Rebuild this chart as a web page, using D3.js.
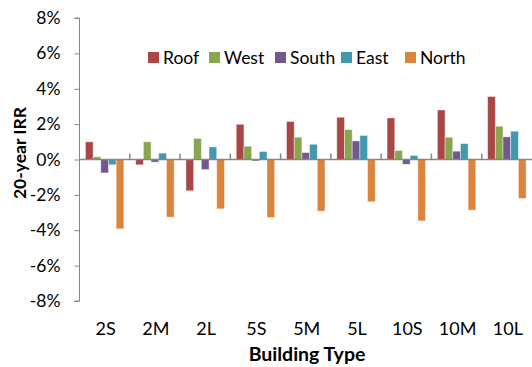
<!DOCTYPE html>
<html>
<head>
<meta charset="utf-8">
<script src="https://cdn.jsdelivr.net/npm/d3@7/dist/d3.min.js"></script>
<style>
  html, body { margin: 0; padding: 0; background: #fff; }
  svg { display: block; font-family: Lato, "Open Sans", sans-serif; }
</style>
</head>
<body>
<svg id="chart" width="532" height="367"></svg>
<script>
// Building types along the x axis
const categories = ["2S", "2M", "2L", "5S", "5M", "5L", "10S", "10M", "10L"];
// Roof / facade orientations
const seriesNames = ["Roof", "West", "South", "East", "North"];
const seriesColors = ["#AA4643", "#89A54E", "#71588F", "#4198AF", "#DB843D"];

// 20-year IRR (%) per building type, one array per orientation
const roof  = [1.00, -0.30, -1.77, 1.99, 2.15, 2.39, 2.35, 2.80, 3.56];
const west  = [0.15, 1.00, 1.19, 0.75, 1.26, 1.69, 0.51, 1.26, 1.88];
const south = [-0.76, -0.15, -0.57, -0.08, 0.39, 1.05, -0.27, 0.47, 1.28];
const east  = [-0.30, 0.36, 0.71, 0.45, 0.86, 1.36, 0.23, 0.90, 1.60];
const north = [-3.92, -3.26, -2.79, -3.28, -2.92, -2.39, -3.47, -2.86, -2.20];

const yTicks = [-8, -6, -4, -2, 0, 2, 4, 6, 8];

const seriesValues = [roof, west, south, east, north];

const svg = d3.select("#chart");
const plot = { left: 79.5, right: 532, top: 18, bottom: 301 };

const x0 = d3.scaleBand().domain(categories).range([plot.left, plot.right]).paddingInner(0).paddingOuter(0);
const x1 = d3.scaleBand().domain(seriesNames).range([0, x0.bandwidth()]).paddingInner(0).paddingOuter(0.77);
const y = d3.scaleLinear().domain([-8, 8]).range([plot.bottom, plot.top]);

// Bars
const groups = svg.append("g").selectAll("g")
  .data(categories)
  .join("g")
  .attr("transform", d => `translate(${x0(d)},0)`);

groups.selectAll("rect")
  .data((c, i) => seriesNames.map((s, k) => ({ s, k, v: seriesValues[k][i] })))
  .join("rect")
  .attr("x", d => x1(d.s))
  .attr("width", x1.bandwidth())
  .attr("y", d => y(Math.max(0, d.v)))
  .attr("height", d => Math.abs(y(d.v) - y(0)))
  .attr("fill", d => seriesColors[d.k])
  .attr("stroke", "#fff")
  .attr("stroke-opacity", 0.5)
  .attr("stroke-width", 0.8);

// Y axis
const yAxis = d3.axisLeft(y).tickValues(yTicks).tickSize(5).tickPadding(14)
  .tickFormat(d => d + "%");
const gy = svg.append("g").attr("transform", `translate(${plot.left},0)`).call(yAxis);
gy.select(".domain").attr("stroke", "#868686").attr("d", `M-5,${y(8)}H0V${y(-8)}H-5`);
gy.selectAll(".tick line").attr("stroke", "#868686");
gy.selectAll(".tick text").attr("font-size", 17.5).attr("fill", "#000")
  .attr("font-family", "Lato, 'Open Sans', sans-serif");

// X axis line at zero with category boundary ticks pointing up
const gx = svg.append("g");
gx.append("line")
  .attr("x1", plot.left).attr("x2", plot.right)
  .attr("y1", y(0)).attr("y2", y(0))
  .attr("stroke", "#868686").attr("stroke-width", 1.5);
gx.selectAll("line.tick")
  .data(categories.slice(1))
  .join("line")
  .attr("class", "tick")
  .attr("x1", d => x0(d)).attr("x2", d => x0(d))
  .attr("y1", y(0) - 6).attr("y2", y(0))
  .attr("stroke", "#868686").attr("stroke-width", 1.5);

// Category labels
svg.append("g").selectAll("text")
  .data(categories)
  .join("text")
  .attr("x", d => x0(d) + x0.bandwidth() / 2 + 1)
  .attr("y", 335)
  .attr("text-anchor", "middle")
  .attr("font-size", 18)
  .text(d => d);

// Axis titles
svg.append("text")
  .attr("x", 307).attr("y", 361)
  .attr("text-anchor", "middle")
  .attr("font-size", 19.5).attr("font-weight", "bold")
  .text("Building Type");

svg.append("text")
  .attr("transform", `translate(26,153) rotate(-90)`)
  .attr("text-anchor", "middle")
  .attr("font-size", 17.5).attr("font-weight", "bold")
  .text("20-year IRR");

// Legend
const legendX = [148, 209, 275, 341, 405];
const legend = svg.append("g").selectAll("g")
  .data(seriesNames)
  .join("g")
  .attr("transform", (d, i) => `translate(${legendX[i]},52)`);
legend.append("rect")
  .attr("width", 11).attr("height", 11)
  .attr("fill", (d, i) => seriesColors[i]);
legend.append("text")
  .attr("x", 15).attr("y", 12)
  .attr("font-size", 17.5)
  .text(d => d);
</script>
</body>
</html>
